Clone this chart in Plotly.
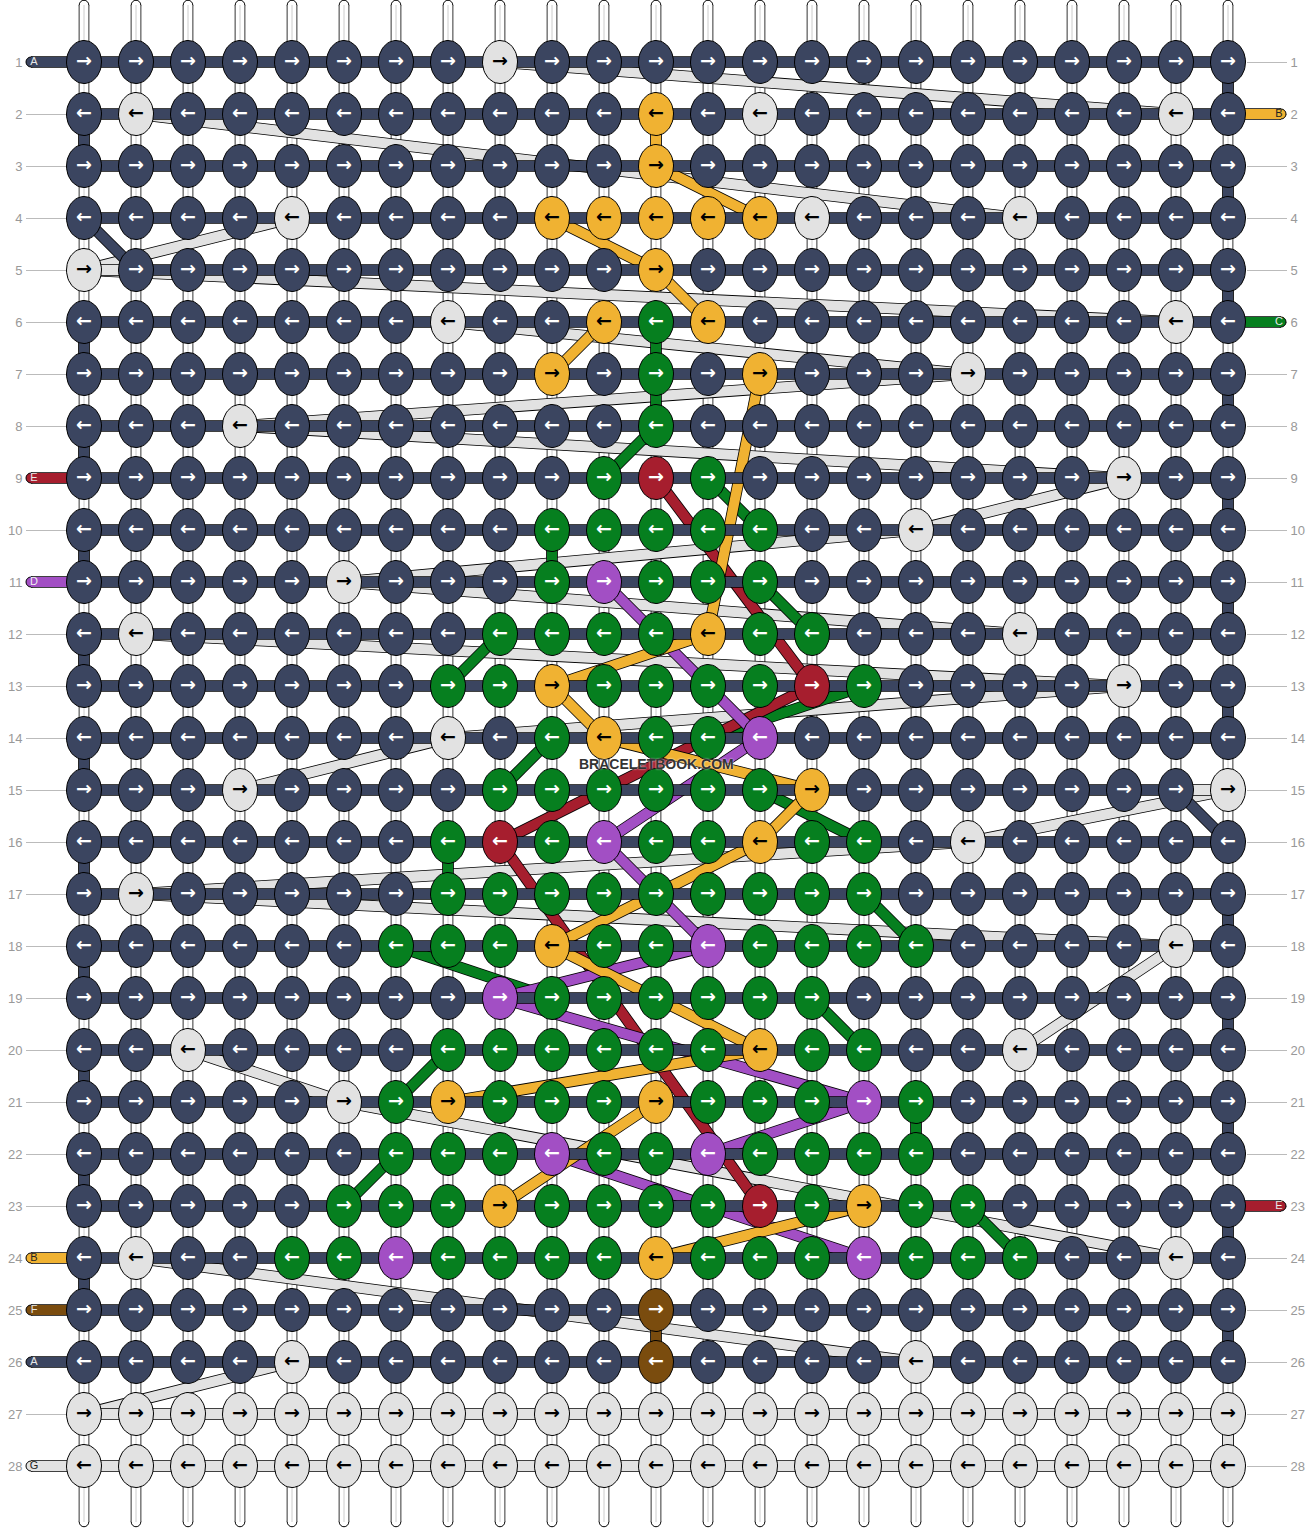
import math
import plotly.graph_objects as go

ROWS = list(range(1, 29))
COLS = list(range(1, 24))

NAVY = "#3b4560"
LIGHT = "#e2e2e2"
ORANGE = "#f0b232"
GREEN = "#067f1f"
RED = "#a61e2e"
PURPLE = "#a24fc4"
BROWN = "#7a4c0e"

# knots that are not the navy background: row -> columns
LIGHT_KNOTS = {1: [9], 2: [2, 14, 22], 4: [5, 15, 19], 5: [1], 6: [8, 22], 7: [18], 8: [4], 9: [21],
               10: [17], 11: [6], 12: [2, 19], 13: [21], 14: [8], 15: [4, 23], 16: [18], 17: [2],
               18: [22], 20: [3, 19], 21: [6], 24: [2, 22], 26: [5, 17], 27: COLS, 28: COLS}
ORANGE_KNOTS = {2: [12], 3: [12], 4: [10, 11, 12, 13, 14], 5: [12], 6: [11, 13], 7: [10, 14], 12: [13],
                13: [10], 14: [11], 15: [15], 16: [14], 18: [10], 20: [14], 21: [8, 12], 23: [9, 16], 24: [12]}
GREEN_KNOTS = {6: [12], 7: [12], 8: [12], 9: [11, 13], 10: [10, 11, 12, 13, 14], 11: [10, 12, 13, 14],
               12: [9, 10, 11, 12, 14, 15], 13: [8, 9, 11, 12, 13, 14, 16], 14: [10, 12, 13],
               15: [9, 10, 11, 12, 13, 14], 16: [8, 10, 12, 13, 15, 16],
               17: [8, 9, 10, 11, 12, 13, 14, 15, 16], 18: [7, 8, 9, 11, 12, 14, 15, 16, 17],
               19: [10, 11, 12, 13, 14, 15], 20: [8, 9, 10, 11, 12, 13, 15, 16],
               21: [7, 9, 10, 11, 13, 14, 15, 17], 22: [7, 8, 9, 11, 12, 14, 15, 16, 17],
               23: [6, 7, 8, 10, 11, 12, 13, 15, 17, 18], 24: [5, 6, 8, 9, 10, 11, 13, 14, 15, 17, 18, 19]}
RED_KNOTS = {9: [12], 13: [15], 16: [9], 23: [14]}
PURPLE_KNOTS = {11: [11], 14: [14], 16: [11], 18: [13], 19: [9], 21: [16], 22: [10, 13], 24: [7, 16]}
BROWN_KNOTS = {25: [12], 26: [12]}

# strand runs between knots: (row, col, row, col)
LIGHT_RUNS = [(1, 9, 2, 22), (2, 2, 4, 19), (4, 5, 5, 1), (5, 1, 6, 22), (6, 8, 7, 18), (7, 18, 8, 4),
              (8, 4, 9, 21), (9, 21, 10, 17), (10, 17, 11, 6), (11, 6, 12, 19), (12, 2, 13, 21),
              (13, 21, 14, 8), (14, 8, 15, 4), (15, 23, 16, 18), (16, 18, 17, 2), (17, 2, 18, 22),
              (18, 22, 20, 19), (20, 3, 21, 6), (21, 6, 24, 22), (24, 2, 26, 17), (26, 5, 27, 1)]
GREEN_RUNS = [(8, 12, 9, 11), (9, 13, 10, 14), (11, 14, 12, 15), (12, 9, 13, 8), (13, 16, 14, 13),
              (14, 10, 15, 9), (15, 14, 16, 16), (17, 16, 18, 17), (18, 7, 19, 10), (19, 15, 20, 16),
              (20, 8, 21, 7), (22, 7, 23, 6), (23, 18, 24, 19)]
RED_RUNS = [(9, 12, 13, 15), (13, 15, 16, 9), (16, 9, 23, 14)]
PURPLE_RUNS = [(11, 11, 14, 14), (14, 14, 16, 11), (16, 11, 18, 13), (18, 13, 19, 9), (19, 9, 21, 16),
               (21, 16, 22, 13), (22, 10, 24, 16)]
ORANGE_RUNS = [(2, 12, 3, 12), (3, 12, 4, 14), (4, 10, 5, 12), (5, 12, 6, 13), (6, 11, 7, 10),
               (7, 14, 12, 13), (12, 13, 13, 10), (13, 10, 14, 11), (14, 11, 15, 15), (15, 15, 16, 14),
               (16, 14, 18, 10), (18, 10, 20, 14), (20, 14, 21, 8), (21, 12, 23, 9), (23, 16, 24, 12)]
NAVY_RUNS = [(1, 23, 2, 23), (3, 23, 4, 23), (5, 23, 6, 23), (7, 23, 8, 23), (9, 23, 10, 23), (11, 23, 12, 23),
             (13, 23, 14, 23), (15, 22, 16, 23), (17, 23, 18, 23), (19, 23, 20, 23), (21, 23, 22, 23),
             (23, 23, 24, 23), (25, 23, 26, 23), (2, 1, 3, 1), (4, 1, 5, 2), (6, 1, 7, 1), (8, 1, 9, 1),
             (10, 1, 11, 1), (12, 1, 13, 1), (14, 1, 15, 1), (16, 1, 17, 1), (18, 1, 19, 1), (20, 1, 21, 1),
             (22, 1, 23, 1), (24, 1, 25, 1)]
GREEN_STRAIGHT = [(6, 12, 7, 12), (7, 12, 8, 12), (10, 10, 11, 10), (16, 8, 17, 8), (21, 17, 22, 17)]
BROWN_STRAIGHT = [(25, 12, 26, 12)]
LIGHT_STRAIGHT = [(27, 23, 28, 23)]

# rows that do not run navy from end to end: (row, first col, last col)
LIGHT_SPANS = [(5, 1, 2), (15, 22, 23), (27, 1, 23), (28, 1, 23)]
NAVY_SPANS = [(r, 1, 23) for r in ROWS[:26] if r not in (5, 15)] + [(5, 2, 23), (15, 1, 22)]

# strand ends beyond the edge columns
LEFT_ENDS = [(1, "A", NAVY, "#e8e8e8"), (9, "E", RED, "#e8e8e8"), (11, "D", PURPLE, "#f0f0f0"),
             (24, "B", ORANGE, "#222222"), (25, "F", BROWN, "#e8e8e8"), (26, "A", NAVY, "#e8e8e8"),
             (28, "G", LIGHT, "#222222")]
RIGHT_ENDS = [(2, "B", ORANGE, "#222222"), (6, "C", GREEN, "#e8e8e8"), (23, "E", RED, "#e8e8e8")]

PX = 52.0  # pixels per grid step
fig = go.Figure()


def lines(xs, ys, color, width):
    fig.add_trace(go.Scatter(x=xs, y=ys, mode="lines", line=dict(color=color, width=width),
                             cliponaxis=False, hoverinfo="skip", showlegend=False))


def runs(items, color, w=10, o=11.6):
    xs, ys = [], []
    for r0, c0, r1, c1 in items:
        xs += [c0, c1, None]
        ys += [r0, r1, None]
    lines(xs, ys, "#000000", o)
    lines(xs, ys, color, w)


def dots(xs, ys, color, size):
    fig.add_trace(go.Scatter(x=xs, y=ys, mode="markers", cliponaxis=False, hoverinfo="skip", showlegend=False,
                             marker=dict(color=color, size=size, line=dict(color="#000000", width=1))))


# right-hand axis needs a trace of its own
fig.add_trace(go.Scatter(x=[1], y=[1], yaxis="y2", mode="markers", marker=dict(opacity=0),
                         hoverinfo="skip", showlegend=False))

# warp threads
TOP = 1 - 57 / PX
BOTTOM = 28 + 56 / PX
dots(COLS + COLS, [TOP] * 23 + [BOTTOM] * 23, "#ffffff", 9.5)
wx, wy = [], []
for c in COLS:
    wx += [c, c, None]
    wy += [TOP, BOTTOM, None]
lines(wx, wy, "#000000", 10.6)
lines(wx, wy, "#ffffff", 9)
lines(wx, wy, "#cccccc", 1)

# running strands, lowest first
runs(LIGHT_RUNS, LIGHT)
runs(NAVY_RUNS, NAVY)
runs(GREEN_RUNS, GREEN)
runs(RED_RUNS, RED)
runs(PURPLE_RUNS, PURPLE)
runs(ORANGE_RUNS, ORANGE)
runs(GREEN_STRAIGHT, GREEN)
runs(BROWN_STRAIGHT, BROWN)
runs(LIGHT_STRAIGHT, LIGHT)

# row strands
runs([(r, a, r, b) for r, a, b in LIGHT_SPANS], LIGHT)
runs([(r, a, r, b) for r, a, b in NAVY_SPANS], NAVY)

# ends
LEFT_TIP = 1 - 53 / PX
RIGHT_TIP = 23 + 53 / PX
for row, label, color, ink in LEFT_ENDS:
    dots([LEFT_TIP], [row], color, 10)
    runs([(row, LEFT_TIP, row, 1)], color)
for row, label, color, ink in RIGHT_ENDS:
    dots([RIGHT_TIP], [row], color, 10)
    runs([(row, 23, row, RIGHT_TIP)], color)

# knots
KNOT_SETS = [(LIGHT_KNOTS, LIGHT), (ORANGE_KNOTS, ORANGE), (GREEN_KNOTS, GREEN), (RED_KNOTS, RED),
             (PURPLE_KNOTS, PURPLE), (BROWN_KNOTS, BROWN)]
color_at = {}
for table, color in KNOT_SETS:
    for row, cols in table.items():
        for col in cols:
            color_at[(row, col)] = color

by_color = {}
for r in ROWS:
    for c in COLS:
        by_color.setdefault(color_at.get((r, c), NAVY), []).append((r, c))

A = 17.5 / PX
B = 21.5 / PX
ANGLES = [2 * math.pi * i / 48 for i in range(49)]
for color, cells in by_color.items():
    xs, ys = [], []
    for r, c in cells:
        xs += [c + A * math.cos(t) for t in ANGLES] + [None]
        ys += [r + B * math.sin(t) for t in ANGLES] + [None]
    fig.add_trace(go.Scatter(x=xs, y=ys, mode="lines", fill="toself", fillcolor=color,
                             line=dict(color="#000000", width=1), cliponaxis=False,
                             hoverinfo="skip", showlegend=False))

# arrows: odd rows tie right, even rows tie left
DARK_INK = (LIGHT, ORANGE)
ax, ay, at, ac = [], [], [], []
for r in ROWS:
    for c in COLS:
        ax.append(c)
        ay.append(r)
        at.append("→" if r % 2 else "←")
        ac.append("#000000" if color_at.get((r, c), NAVY) in DARK_INK else "#ffffff")
fig.add_trace(go.Scatter(x=ax, y=ay, mode="text", text=at, textposition="middle center",
                         textfont=dict(family="DejaVu Sans", size=19, color=ac, weight="bold"),
                         cliponaxis=False, hoverinfo="skip", showlegend=False))

# strand letters
lx = [1 - 50 / PX] * len(LEFT_ENDS) + [23 + 51 / PX] * len(RIGHT_ENDS)
ly = [e[0] for e in LEFT_ENDS] + [e[0] for e in RIGHT_ENDS]
lt = [e[1] for e in LEFT_ENDS] + [e[1] for e in RIGHT_ENDS]
lc = [e[3] for e in LEFT_ENDS] + [e[3] for e in RIGHT_ENDS]
fig.add_trace(go.Scatter(x=lx, y=ly, mode="text", text=lt, textposition="middle center",
                         textfont=dict(family="Liberation Sans", size=11, color=lc),
                         cliponaxis=False, hoverinfo="skip", showlegend=False))

fig.add_annotation(text="BRACELETBOOK.COM", x=12, y=14.5, xref="x", yref="y", showarrow=False,
                   font=dict(family="Liberation Sans", size=14, color="#333333", weight="bold",
                             shadow="0 0 2px #ffffff"))

axis_y = dict(range=[1 + 1466 / PX, 1 - 62 / PX], tickmode="array", tickvals=ROWS, ticktext=[str(r) for r in ROWS],
              ticks="outside", ticklen=40, tickwidth=1, tickcolor="#bbbbbb", showgrid=False, zeroline=False,
              showline=False, tickfont=dict(family="Liberation Sans", size=13, color="#999999"),
              ticklabelstandoff=1, layer="below traces", anchor="free")
fig.update_layout(
    width=1312, height=1528, paper_bgcolor="#ffffff", plot_bgcolor="#ffffff", showlegend=False,
    margin=dict(l=0, r=0, t=0, b=0, autoexpand=False),
    xaxis=dict(range=[1 - 84 / PX, 23 + 84 / PX], domain=[0, 1], showgrid=False, zeroline=False, showline=False,
               showticklabels=False, ticks=""),
    yaxis=dict(side="left", position=66 / 1312, **axis_y),
    yaxis2=dict(side="right", overlaying="y", position=1246 / 1312, **axis_y),
)
fig.write_html("out.html", config=dict(displayModeBar=False),
               post_script="document.body.style.margin='0';")
